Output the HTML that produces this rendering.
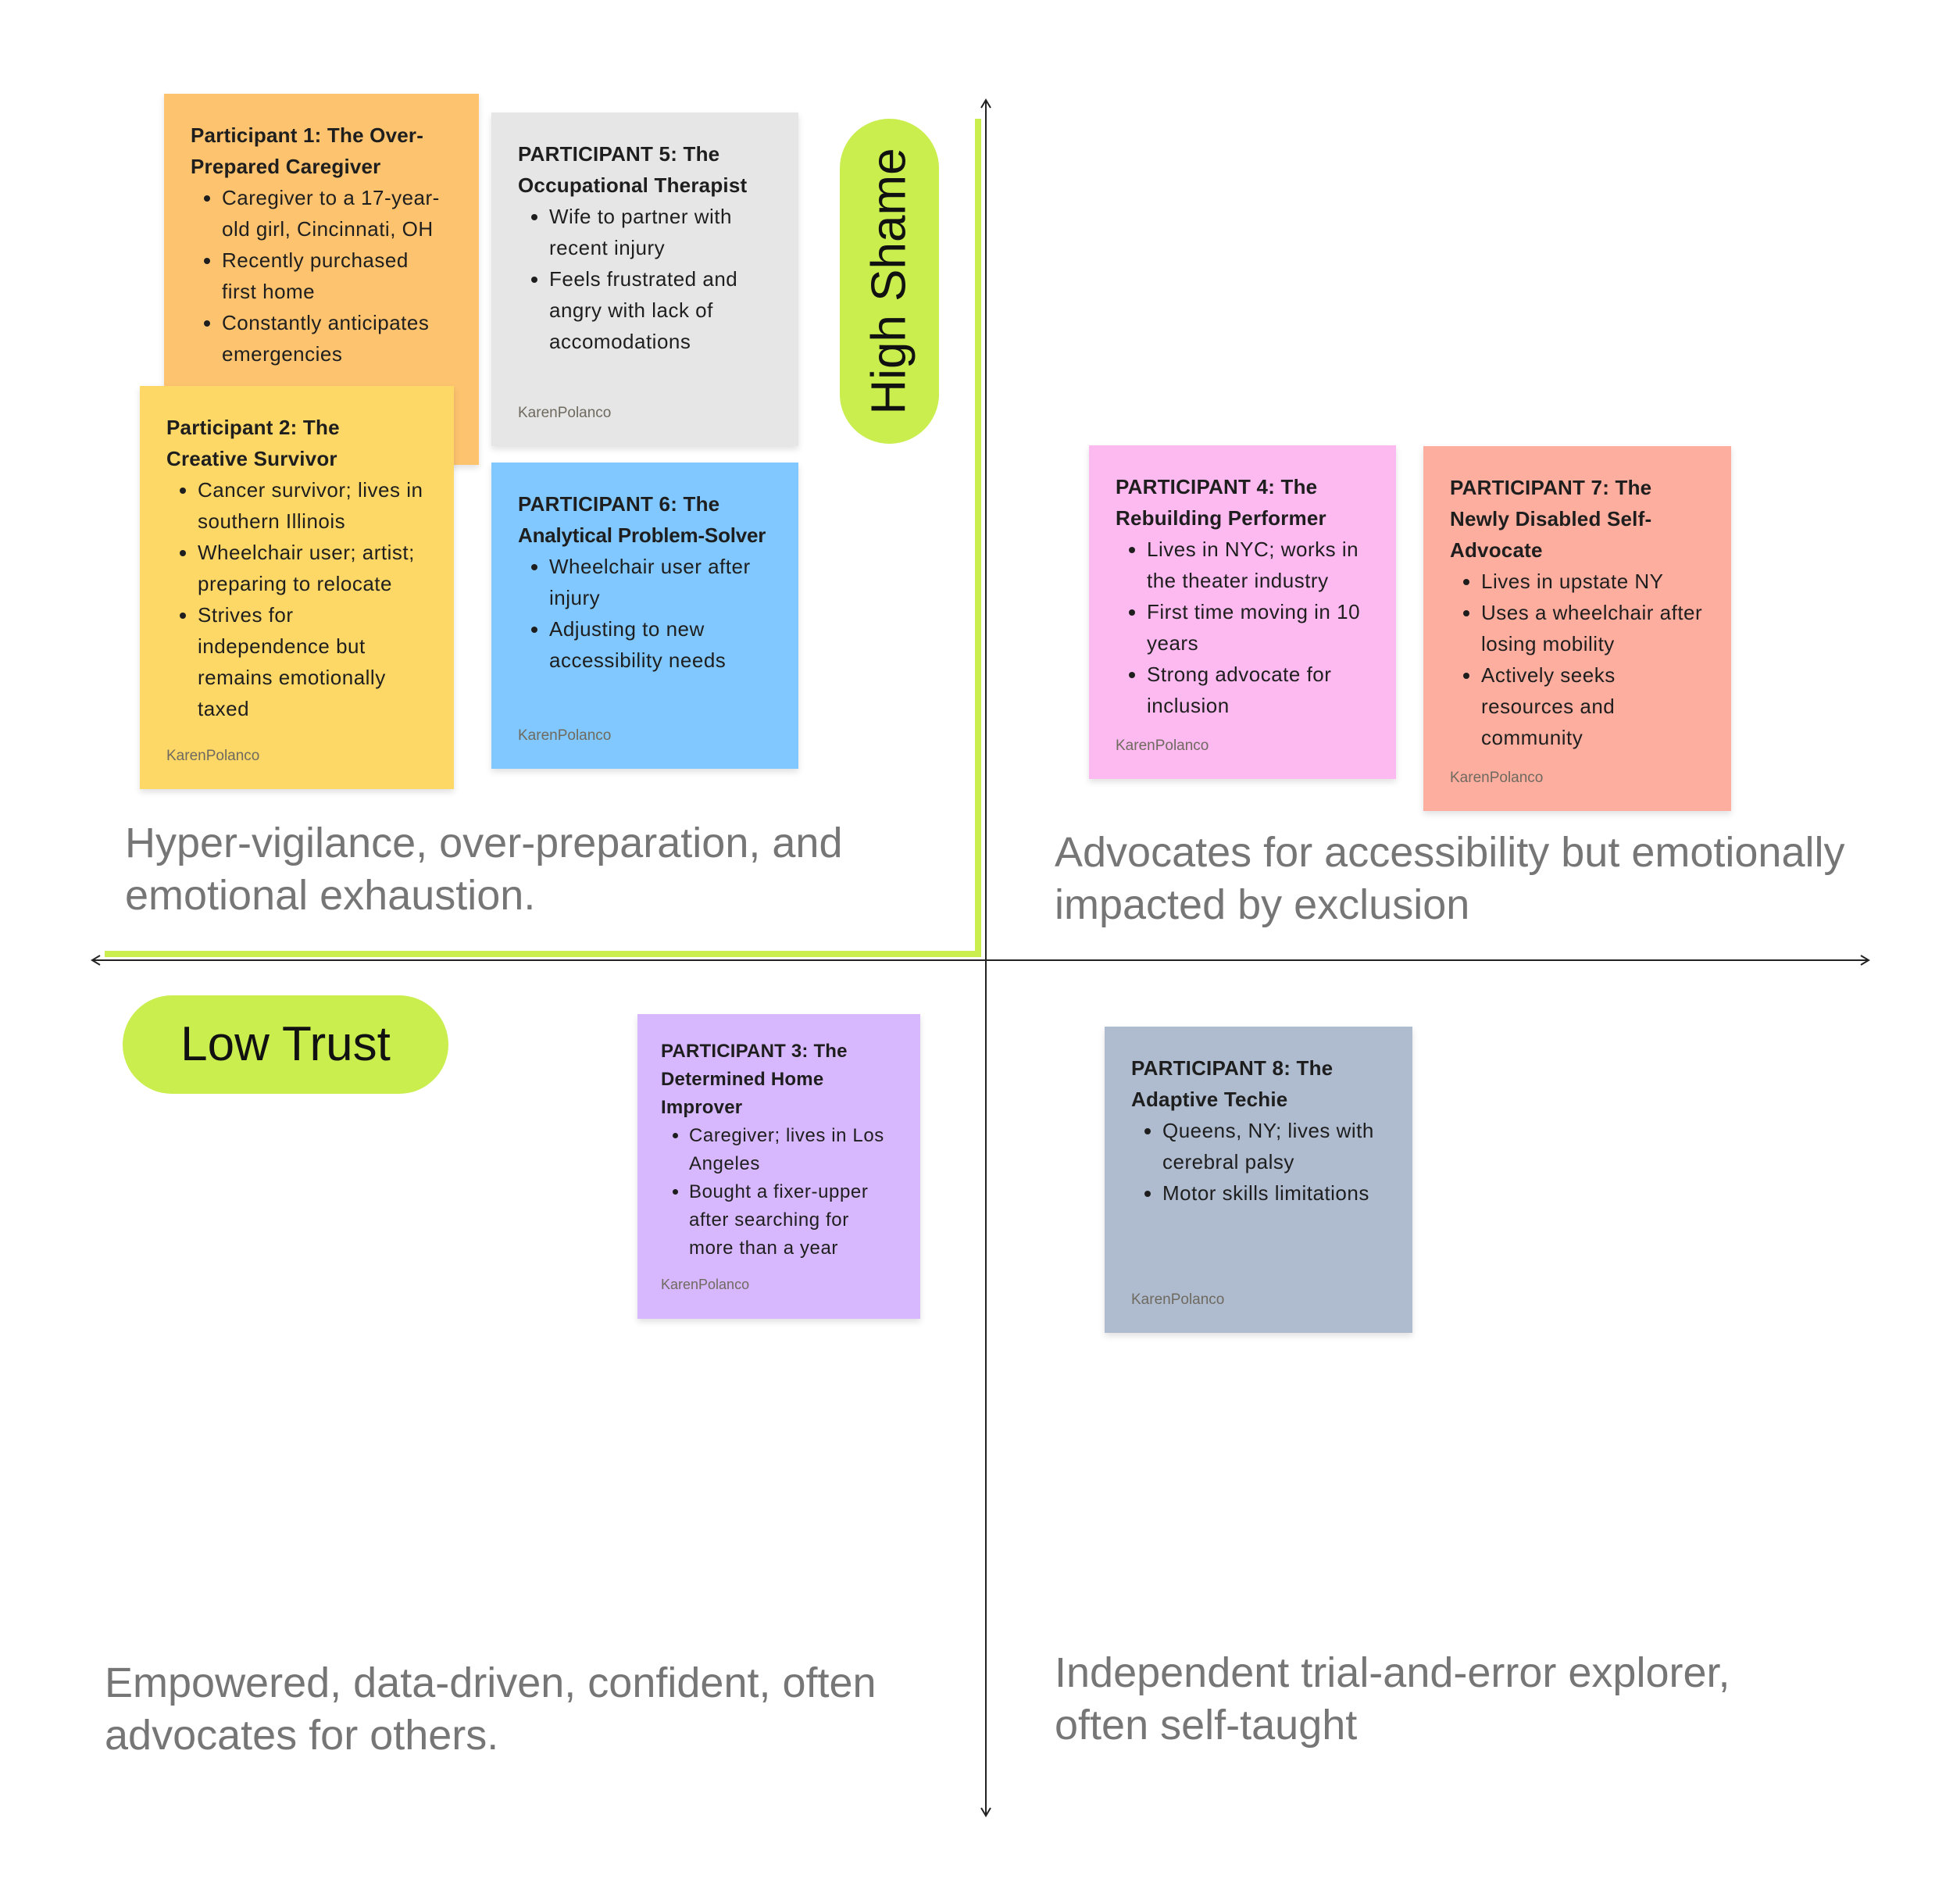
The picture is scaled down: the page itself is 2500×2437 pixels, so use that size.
<!DOCTYPE html>
<html><head><meta charset="utf-8">
<style>
html,body{margin:0;padding:0;background:#fff;}
body{width:2500px;height:2437px;position:relative;overflow:hidden;font-family:"Liberation Sans",Arial,sans-serif;}
.card{position:absolute;box-sizing:border-box;padding:33px 34px;color:#1e1e1e;font-size:26px;line-height:40px;box-shadow:0 4px 8px rgba(0,0,0,0.12);letter-spacing:0.5px;}
.card b{font-weight:bold;display:block;letter-spacing:0.2px;}
.card ul{margin:0;padding:0 0 0 40px;}
.card li{margin:0;}
.auth{position:absolute;left:34px;bottom:30px;font-size:19px;color:#6f6a60;line-height:24px;letter-spacing:0;}
.sm{font-size:24px;line-height:36px;padding:30px 30px;letter-spacing:0.6px;}
.sm ul{padding-left:36px;}
.q{position:absolute;font-size:54px;line-height:67px;color:#767676;}
.pill{position:absolute;background:#c9ee4e;border-radius:70px;}
.nw{white-space:nowrap;}
</style></head><body>

<svg width="2500" height="2437" style="position:absolute;left:0;top:0">
  <line x1="1262" y1="130" x2="1262" y2="2322" stroke="#222" stroke-width="2"/>
  <polyline points="1256,138 1262,128 1268,138" fill="none" stroke="#222" stroke-width="2"/>
  <polyline points="1256,2314 1262,2324 1268,2314" fill="none" stroke="#222" stroke-width="2"/>
  <line x1="120" y1="1229" x2="2390" y2="1229" stroke="#222" stroke-width="2"/>
  <polyline points="128,1223 118,1229 128,1235" fill="none" stroke="#222" stroke-width="2"/>
  <polyline points="2382,1223 2392,1229 2382,1235" fill="none" stroke="#222" stroke-width="2"/>
  <polyline points="1252,152 1252,1221 134,1221" fill="none" stroke="#c9ee4e" stroke-width="8"/>
</svg>

<div class="card" style="left:210px;top:120px;width:403px;height:475px;background:#fdc36f;">
<b>Participant 1: The Over-Prepared Caregiver</b>
<ul><li>Caregiver to a 17-year-old girl, Cincinnati, OH</li><li>Recently purchased<br>first home</li><li>Constantly anticipates emergencies</li></ul>
</div>

<div class="card" style="left:179px;top:494px;width:402px;height:516px;background:#fdd866;">
<b>Participant 2: The<br>Creative Survivor</b>
<ul><li>Cancer survivor; lives in southern Illinois</li><li>Wheelchair user; artist; preparing to relocate</li><li>Strives for independence but remains emotionally taxed</li></ul>
<div class="auth">KarenPolanco</div>
</div>

<div class="card" style="left:629px;top:144px;width:393px;height:427px;background:#e6e6e6;">
<b>PARTICIPANT 5: The Occupational Therapist</b>
<ul><li>Wife to partner with recent injury</li><li>Feels frustrated and angry with lack of accomodations</li></ul>
<div class="auth">KarenPolanco</div>
</div>

<div class="card" style="left:629px;top:592px;width:393px;height:392px;background:#80c8ff;">
<b>PARTICIPANT 6: The<br><span class="nw" style="letter-spacing:-0.2px">Analytical Problem-Solver</span></b>
<ul><li>Wheelchair user after injury</li><li>Adjusting to new accessibility needs</li></ul>
<div class="auth">KarenPolanco</div>
</div>

<div class="pill" style="left:1075px;top:152px;width:127px;height:416px;"></div>
<div style="position:absolute;left:1138px;top:360px;transform:translate(-50%,-50%) rotate(-90deg);font-size:62px;white-space:nowrap;color:#111;">High Shame</div>

<div class="card" style="left:1394px;top:570px;width:393px;height:427px;background:#fdbaf0;">
<b>PARTICIPANT 4: The Rebuilding Performer</b>
<ul><li>Lives in NYC; works in the theater industry</li><li>First time moving in 10 years</li><li>Strong advocate for inclusion</li></ul>
<div class="auth">KarenPolanco</div>
</div>

<div class="card" style="left:1822px;top:571px;width:394px;height:467px;background:#feae9f;">
<b>PARTICIPANT 7: The Newly Disabled Self-Advocate</b>
<ul><li>Lives in upstate NY</li><li>Uses a wheelchair after losing mobility</li><li>Actively seeks resources and community</li></ul>
<div class="auth">KarenPolanco</div>
</div>

<div class="q" style="left:160px;top:1046px;">Hyper-vigilance, over-preparation, and<br>emotional exhaustion.</div>
<div class="q" style="left:1350px;top:1058px;">Advocates for accessibility but emotionally<br>impacted by exclusion</div>

<div class="pill" style="left:157px;top:1274px;width:417px;height:126px;"></div>
<div style="position:absolute;left:157px;top:1274px;width:417px;height:126px;line-height:126px;text-align:center;font-size:62px;color:#111;">Low Trust</div>

<div class="card sm" style="left:816px;top:1298px;width:362px;height:390px;background:#d7b8fe;">
<b>PARTICIPANT 3: The Determined Home Improver</b>
<ul><li>Caregiver; lives in Los Angeles</li><li>Bought a fixer-upper after searching for more than a year</li></ul>
<div class="auth" style="left:30px;bottom:32px;font-size:18px;">KarenPolanco</div>
</div>

<div class="card" style="left:1414px;top:1314px;width:394px;height:392px;background:#afbcd0;">
<b>PARTICIPANT 8: The Adaptive Techie</b>
<ul><li>Queens, NY; lives with cerebral palsy</li><li>Motor skills limitations</li></ul>
<div class="auth">KarenPolanco</div>
</div>

<div class="q" style="left:134px;top:2121px;">Empowered, data-driven, confident, often<br>advocates for others.</div>
<div class="q" style="left:1350px;top:2108px;">Independent trial-and-error explorer,<br>often self-taught</div>

</body></html>
